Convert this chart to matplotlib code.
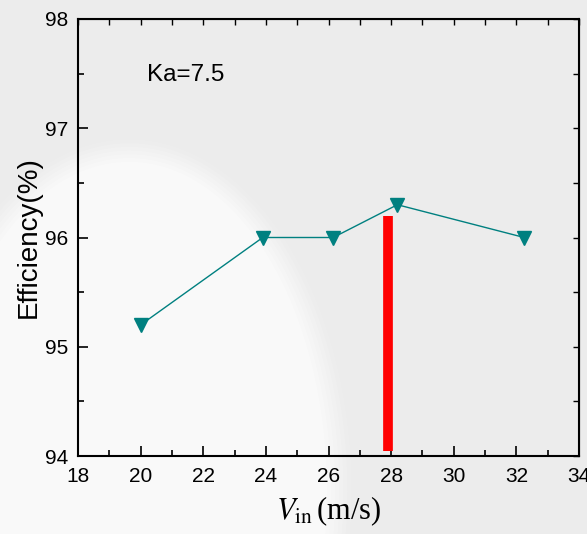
import numpy as np
import matplotlib.pyplot as plt
from matplotlib.patches import Ellipse
from matplotlib.ticker import MultipleLocator

plt.rcParams['mathtext.fontset'] = 'stix'

# data
v_in = [20.0, 23.9, 26.15, 28.2, 32.25]
efficiency = [95.2, 96.0, 96.0, 96.3, 96.0]
bar_x = 27.9
bar_bottom = 94.05
bar_top = 96.2

fig = plt.figure(figsize=(5.87, 5.34), dpi=100)
fig.patch.set_facecolor('#ececec')

# soft white blob in the background (slide backdrop)
for i, a in enumerate(np.linspace(0.12, 0.9, 8)):
    grow = (8 - i) * 0.014
    e = Ellipse((0.22, 0.08), 0.66 + grow, 1.22 + grow, transform=fig.transFigure,
                facecolor='white', edgecolor='none', alpha=a * 0.33, zorder=-10)
    fig.patches.append(e)

ax = fig.add_axes([78 / 587, 1 - 456 / 534, 501 / 587, 437 / 534])
ax.patch.set_alpha(0)

ax.plot(v_in, efficiency, color='#008080', lw=1.0, marker='v', markersize=10,
        markeredgecolor='#008080', markerfacecolor='#008080', zorder=3)
ax.plot([bar_x, bar_x], [bar_bottom, bar_top], color='red', lw=7,
        solid_capstyle='butt', zorder=2)

ax.set_xlim(18, 34)
ax.set_ylim(94, 98)
ax.xaxis.set_major_locator(MultipleLocator(2))
ax.xaxis.set_minor_locator(MultipleLocator(1))
ax.yaxis.set_major_locator(MultipleLocator(1))
ax.yaxis.set_minor_locator(MultipleLocator(0.5))
ax.tick_params(which='both', direction='in', labelsize=15, width=1.2)
ax.tick_params(axis='x', pad=8)
ax.tick_params(axis='y', pad=7)
ax.tick_params(which='major', length=7)
ax.tick_params(which='minor', length=4)
for s in ax.spines.values():
    s.set_linewidth(1.5)
for lab in ax.get_xticklabels() + ax.get_yticklabels():
    lab.set_family('Liberation Sans')

# short ticks on top and right, no labels
top = ax.secondary_xaxis('top')
top.xaxis.set_major_locator(MultipleLocator(1))
top.tick_params(direction='in', length=4, width=1.0, labeltop=False)
right = ax.secondary_yaxis('right')
right.yaxis.set_major_locator(MultipleLocator(0.5))
right.tick_params(direction='in', length=4, width=1.0, labelright=False)

ax.text(20.2, 97.49, 'Ka=7.5', fontsize=17.5, family='Liberation Sans',
        va='center', ha='left')
ax.set_ylabel('Efficiency(%)', fontsize=20, family='Liberation Sans', labelpad=2)
ax.set_xlabel(r'$V_{\mathrm{in}}\,$(m/s)', fontsize=22, family='Liberation Serif',
              labelpad=6)

fig.savefig('out.png', dpi=100, facecolor=fig.get_facecolor())
